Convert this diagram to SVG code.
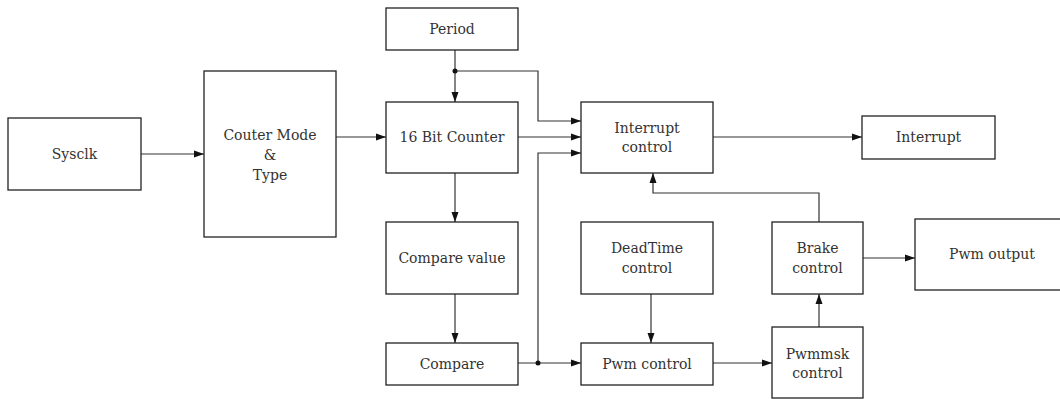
<svg xmlns="http://www.w3.org/2000/svg" width="1060" height="399" viewBox="0 0 1060 399">
<style>
.box{fill:#fff;stroke:#222;stroke-width:1.3}
.t{font-family:"DejaVu Serif","Liberation Serif",serif;font-size:14px;fill:#333;text-anchor:middle}
.c{fill:none;stroke:#333;stroke-width:1.2}
</style>
<defs>
<marker id="a" viewBox="0 0 10 10" refX="10" refY="5" markerWidth="10" markerHeight="10" markerUnits="userSpaceOnUse" orient="auto">
<path d="M0,1.5 L10,5 L0,8.5 Z" fill="#111"/>
</marker>
</defs>
<rect width="1060" height="399" fill="#fff"/>
<g id="connectors">
<path class="c" d="M141,154 H204" marker-end="url(#a)"/>
<path class="c" d="M336,137 H386" marker-end="url(#a)"/>
<path class="c" d="M455,50 V102" marker-end="url(#a)"/>
<path class="c" d="M455,71 H538 V121 H581" marker-end="url(#a)"/>
<path class="c" d="M518,137 H581" marker-end="url(#a)"/>
<path class="c" d="M538,363 V153 H581" marker-end="url(#a)"/>
<path class="c" d="M713,137 H862" marker-end="url(#a)"/>
<path class="c" d="M455,173 V222" marker-end="url(#a)"/>
<path class="c" d="M455,294 V343" marker-end="url(#a)"/>
<path class="c" d="M518,363 H581" marker-end="url(#a)"/>
<path class="c" d="M651,294 V343" marker-end="url(#a)"/>
<path class="c" d="M713,363 H772" marker-end="url(#a)"/>
<path class="c" d="M819,327 V294" marker-end="url(#a)"/>
<path class="c" d="M819,222 V193 H653 V173" marker-end="url(#a)"/>
<path class="c" d="M863,258 H915" marker-end="url(#a)"/>
<circle cx="455" cy="71" r="2.5" fill="#111"/>
<circle cx="538" cy="363" r="2.5" fill="#111"/>
</g>
<g id="sysclk"><rect class="box" x="8" y="118" width="133" height="72"/><text class="t" x="74.5" y="159">Sysclk</text></g>
<g id="couter"><rect class="box" x="204" y="71" width="132" height="166"/><text class="t" x="270" y="140">Couter Mode</text><text class="t" x="270" y="160">&amp;</text><text class="t" x="270" y="180">Type</text></g>
<g id="period"><rect class="box" x="386" y="8" width="132" height="42"/><text class="t" x="452" y="34">Period</text></g>
<g id="counter"><rect class="box" x="386" y="102" width="132" height="71"/><text class="t" x="452" y="142">16 Bit Counter</text></g>
<g id="intctrl"><rect class="box" x="581" y="102" width="132" height="71"/><text class="t" x="647" y="133">Interrupt</text><text class="t" x="647" y="152">control</text></g>
<g id="interrupt"><rect class="box" x="862" y="116" width="133" height="43"/><text class="t" x="928.5" y="142">Interrupt</text></g>
<g id="cmpval"><rect class="box" x="386" y="222" width="132" height="72"/><text class="t" x="452" y="263">Compare value</text></g>
<g id="compare"><rect class="box" x="386" y="343" width="132" height="42"/><text class="t" x="452" y="369">Compare</text></g>
<g id="deadtime"><rect class="box" x="581" y="222" width="132" height="72"/><text class="t" x="647" y="253">DeadTime</text><text class="t" x="647" y="273">control</text></g>
<g id="pwmctrl"><rect class="box" x="581" y="343" width="132" height="42"/><text class="t" x="647" y="369">Pwm control</text></g>
<g id="brake"><rect class="box" x="772" y="222" width="91" height="72"/><text class="t" x="817.5" y="253">Brake</text><text class="t" x="817.5" y="273">control</text></g>
<g id="pwmmsk"><rect class="box" x="772" y="327" width="91" height="71"/><text class="t" x="817.5" y="359">Pwmmsk</text><text class="t" x="817.5" y="378">control</text></g>
<g id="pwmout"><rect class="box" x="915" y="219" width="155" height="71"/><text class="t" x="992" y="259">Pwm output</text></g>
</svg>
